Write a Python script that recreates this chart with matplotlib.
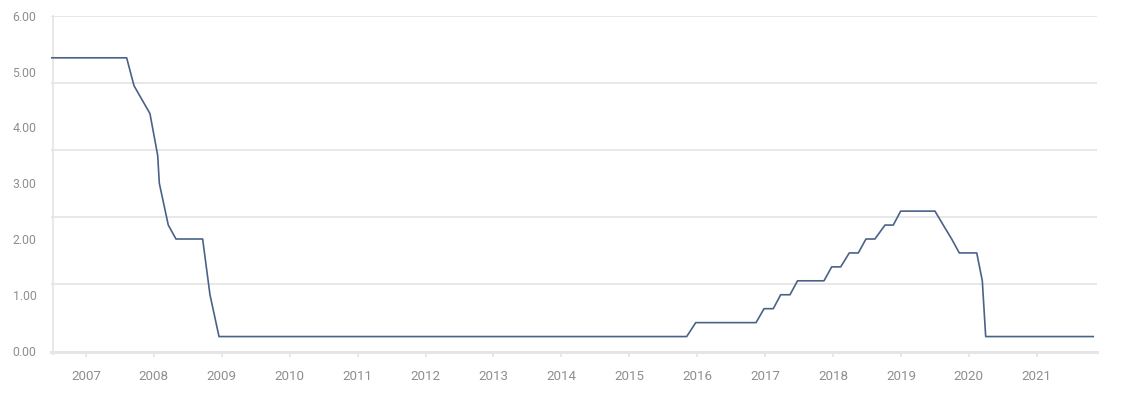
import numpy as np
import matplotlib.pyplot as plt

plt.rcParams['font.family'] = ['Roboto', 'DejaVu Sans']

line_color = '#4a6287'
grid_color = '#e6e6e6'
text_color = '#8f8f8f'

# decimal year / rate (%)
years = [2006.485, 2007.599, 2007.707, 2007.942, 2008.056, 2008.080, 2008.212,
         2008.325, 2008.718, 2008.826, 2008.959, 2015.846, 2015.979, 2016.867,
         2016.985, 2017.121, 2017.230, 2017.367, 2017.478, 2017.868, 2017.981,
         2018.114, 2018.240, 2018.373, 2018.486, 2018.618, 2018.766, 2018.888,
         2018.997, 2019.502, 2019.624, 2019.748, 2019.860, 2020.117, 2020.199,
         2020.249, 2021.833]
rates = [5.25, 5.25, 4.75, 4.25, 3.50, 3.00, 2.25,
         2.00, 2.00, 1.00, 0.25, 0.25, 0.50, 0.50,
         0.75, 0.75, 1.00, 1.00, 1.25, 1.25, 1.50,
         1.50, 1.75, 1.75, 2.00, 2.00, 2.25, 2.25,
         2.50, 2.50, 2.25, 2.00, 1.75, 1.75, 1.25,
         0.25, 0.25]

year_ticks = list(range(2007, 2022))
y_ticks = [0, 1, 2, 3, 4, 5, 6]
y_labels = ["%.2f" % v for v in y_ticks]
grid_levels = [1.2, 2.4, 3.6, 4.8, 6.0]

W, H = 1126, 413
fig = plt.figure(figsize=(W/100, H/100), dpi=100)
ax = fig.add_axes([51/W, (H-350.5)/H, 1046/W, 334.5/H])

for g in grid_levels:
    ax.axhline(g, color=grid_color, lw=1.3, zorder=1)
ax.axhline(-0.025, color=grid_color, lw=2.2, zorder=1, clip_on=False)
ax.axvline(2006.52, ymin=-0.01, ymax=1, color=grid_color, lw=1.3, zorder=1, clip_on=False)

ax.plot(years, rates, color=line_color, lw=1.2, zorder=3)

ax.set_xlim(2006.485, 2021.888)
ax.set_ylim(0, 6)

ax.set_yticks(y_ticks)
ax.set_yticklabels(y_labels)
ax.set_xticks(year_ticks)
ax.set_xticklabels([str(y) for y in year_ticks])

for s in ax.spines.values():
    s.set_visible(False)

ax.tick_params(axis='y', length=0, pad=10.5, labelsize=8.8, labelcolor=text_color)
ax.tick_params(axis='x', length=4.5, width=1.3, color=grid_color, pad=9.5,
               labelsize=9.6, labelcolor=text_color)

fig.savefig("out.png", dpi=100)
